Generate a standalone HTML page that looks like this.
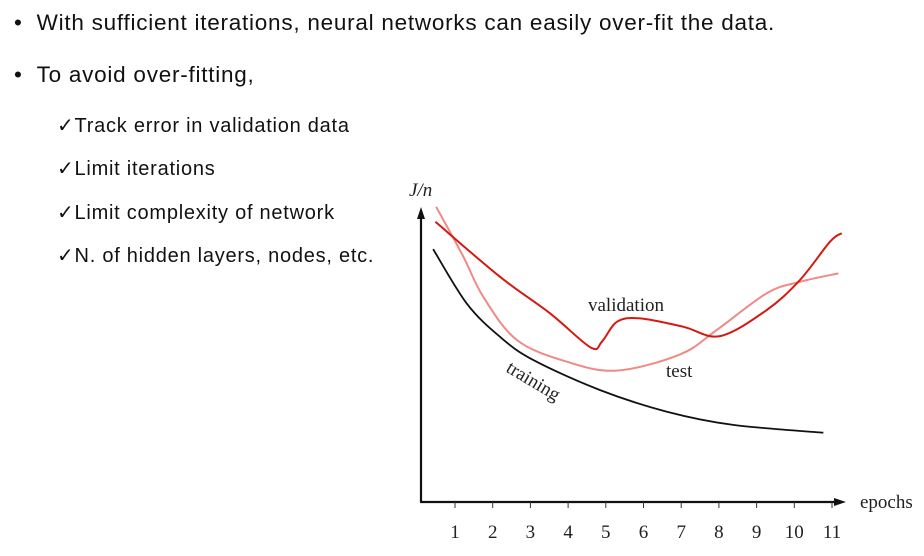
<!DOCTYPE html>
<html><head><meta charset="utf-8"><style>
body{margin:0;width:924px;height:556px;background:#fff;overflow:hidden;font-family:"Liberation Sans",sans-serif;color:#111;position:relative}
.t{position:absolute;white-space:nowrap}
.b{font-size:22.5px;letter-spacing:0.75px}
.c{font-size:20px;letter-spacing:0.75px}
</style></head><body>
<div class="t b" style="left:14px;top:10px">•&nbsp;&nbsp;With sufficient iterations, neural networks can easily over-fit the data.</div>
<div class="t b" style="left:14px;top:62px">•&nbsp;&nbsp;To avoid over-fitting,</div>
<div class="t c" style="left:57px;top:113px">✓Track error in validation data</div>
<div class="t c" style="left:57px;top:156px">✓Limit iterations</div>
<div class="t c" style="left:57px;top:200px">✓Limit complexity of network</div>
<div class="t c" style="left:57px;top:243px">✓N. of hidden layers, nodes, etc.</div>
<svg id="chart" width="924" height="556" style="position:absolute;left:0;top:0"></svg>
<script>
const ticks=[1,2,3,4,5,6,7,8,9,10,11];
const trainX=[0.42,1.31,2.19,3.08,4.85,6.62,8.38,10.77];
const trainY=[84.3,66.2,55.1,47.3,37.3,30.1,25.7,23.1];
const valX=[0.48,2.19,3.52,4.6,4.9,5.3,5.91,7.06,8.03,9.27,10.15,10.95,11.26];
const valY=[93.4,75.1,62.9,51.5,53.5,60.1,61.2,58.4,55.3,64,74,86.8,89.6];
const testX=[0.5,1.22,1.75,2.64,3.96,5.29,6.97,7.94,9.27,10.15,11.17];
const testY=[98.4,81.8,68.4,54,46.8,43.8,49.2,57.3,69.6,73.4,76.2];
const sx=x=>417.3+37.7*x, sy=v=>502-3*v;
const NS="http://www.w3.org/2000/svg", svg=document.getElementById('chart');
function mk(t,a){const e=document.createElementNS(NS,t);for(const k in a)e.setAttribute(k,a[k]);svg.appendChild(e);return e;}
function path(xs,ys){const p=xs.map((x,i)=>[sx(x),sy(ys[i])]);let d=`M${p[0][0]},${p[0][1]}`;
for(let i=0;i<p.length-1;i++){const p0=p[Math.max(0,i-1)],p1=p[i],p2=p[i+1],p3=p[Math.min(p.length-1,i+2)];
d+=` C${p1[0]+(p2[0]-p0[0])/6},${p1[1]+(p2[1]-p0[1])/6} ${p2[0]-(p3[0]-p1[0])/6},${p2[1]-(p3[1]-p1[1])/6} ${p2[0]},${p2[1]}`;}return d;}
let e;
e=mk('line',{x1:421,y1:502,x2:421,y2:215,stroke:'#111','stroke-width':2.2});


e=mk('polygon',{points:'421,207 417,219 425,219',fill:'#111'});


e=mk('line',{x1:420,y1:502,x2:838,y2:502,stroke:'#111','stroke-width':2.2});


e=mk('polygon',{points:'846,502 834,498 834,506',fill:'#111'});


ticks.forEach(t=>{
 e=mk('line',{x1:sx(t),y1:502,x2:sx(t),y2:508,stroke:'#333','stroke-width':1});
 
 
 e=mk('text',{x:sx(t),y:538,'text-anchor':'middle','font-family':'Liberation Serif, serif','font-size':19,fill:'#222'});
 e.textContent=t;
 
 
});
e=mk('path',{d:path(testX,testY),fill:'none',stroke:'#ef8a86','stroke-width':2});


e=mk('path',{d:path(valX,valY),fill:'none',stroke:'#d41a10','stroke-width':2});


e=mk('path',{d:path(trainX,trainY),fill:'none',stroke:'#111','stroke-width':1.8});


const lab=(s,x,y,n,extra)=>{e=mk('text',Object.assign({x:x,y:y,'font-family':'Liberation Serif, serif','font-size':19,fill:'#222'},extra||{}));e.textContent=s;return e;};
e=lab('epochs',860,508);


e=lab('J/n',409,196,'',{'font-style':'italic'});


e=lab('validation',588,311);


e=lab('test',666,377);


e=lab('training',505,371,'',{transform:'rotate(31 505 371)'});


</script>
</body></html>
